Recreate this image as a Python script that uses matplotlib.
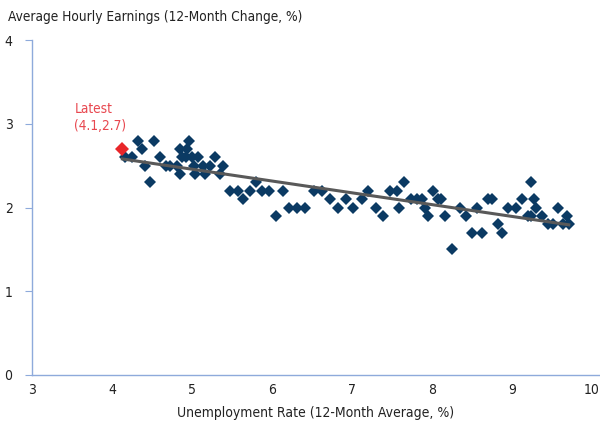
import matplotlib.pyplot as plt
import numpy as np

# unemployment rate (12-month avg, %) vs average hourly earnings (12-month change, %)
unemp = [
    4.16, 4.25, 4.33, 4.37, 4.41, 4.47, 4.53, 4.60, 4.68, 4.72,
    4.81, 4.85, 4.87, 4.85, 4.92, 4.94, 4.96, 5.00, 5.02, 5.04,
    5.08, 5.14, 5.16, 5.22, 5.29, 5.35, 5.39, 5.47, 5.58, 5.64,
    5.72, 5.80, 5.87, 5.96, 6.05, 6.14, 6.21, 6.31, 6.41, 6.52,
    6.62, 6.72, 6.83, 6.93, 7.01, 7.13, 7.20, 7.30, 7.39, 7.48,
    7.56, 7.59, 7.65, 7.74, 7.81, 7.87, 7.91, 7.95, 8.01, 8.07,
    8.11, 8.16, 8.25, 8.35, 8.43, 8.50, 8.56, 8.63, 8.70, 8.75,
    8.82, 8.88, 8.95, 9.05, 9.12, 9.20, 9.24, 9.24, 9.28, 9.30,
    9.38, 9.45, 9.51, 9.57, 9.64, 9.69, 9.71,
]
earnings = [
    2.6, 2.6, 2.8, 2.7, 2.5, 2.3, 2.8, 2.6, 2.5, 2.5,
    2.5, 2.7, 2.6, 2.4, 2.6, 2.7, 2.8, 2.6, 2.5, 2.4,
    2.6, 2.5, 2.4, 2.5, 2.6, 2.4, 2.5, 2.2, 2.2, 2.1,
    2.2, 2.3, 2.2, 2.2, 1.9, 2.2, 2.0, 2.0, 2.0, 2.2,
    2.2, 2.1, 2.0, 2.1, 2.0, 2.1, 2.2, 2.0, 1.9, 2.2,
    2.2, 2.0, 2.3, 2.1, 2.1, 2.1, 2.0, 1.9, 2.2, 2.1,
    2.1, 1.9, 1.5, 2.0, 1.9, 1.7, 2.0, 1.7, 2.1, 2.1,
    1.8, 1.7, 2.0, 2.0, 2.1, 1.9, 1.9, 2.3, 2.1, 2.0,
    1.9, 1.8, 1.8, 2.0, 1.8, 1.9, 1.8,
]
latest_x, latest_y = 4.13, 2.7
latest_label = 'Latest\n(4.1,2.7)'

x_ticks = [3, 4, 5, 6, 7, 8, 9, 10]
y_ticks = [0, 1, 2, 3, 4]

plt.rcParams['font.family'] = ['DejaVu Sans']
plt.rcParams['font.stretch'] = 'condensed'

navy = '#0b3a63'
red = '#e8262a'
axis_blue = '#8eaadb'

fig = plt.figure(figsize=(6, 4.23), dpi=100)
ax = fig.add_axes([0.0533, 0.1135, 0.9467, 0.7919])

all_x = np.array(unemp + [latest_x])
all_y = np.array(earnings + [latest_y])
slope, intercept = np.polyfit(all_x, all_y, 1)
xs = np.array([all_x.min(), all_x.max()])
ax.plot(xs, slope * xs + intercept, color='#595959', lw=2.2, zorder=3)

ax.plot(unemp, earnings, linestyle='none', marker='D', ms=6.6,
        color=navy, mew=0, zorder=2)
ax.plot([latest_x], [latest_y], linestyle='none', marker='D', ms=7.2,
        color=red, mew=0, zorder=4)
ax.text(3.53, 3.26, latest_label, color='#e8474f',
        fontsize=9.8, ha='left', va='top', linespacing=1.3)

ax.set_xlim(3, 10.1)
ax.set_ylim(0, 4)
ax.set_xticks(x_ticks)
ax.set_yticks(y_ticks)
ax.tick_params(axis='x', length=0, pad=6, labelsize=10, labelcolor='#222222')
ax.tick_params(axis='y', direction='out', length=5, color=axis_blue,
               pad=9, labelsize=10, labelcolor='#222222')
for side in ['top', 'right']:
    ax.spines[side].set_visible(False)
for side in ['left', 'bottom']:
    ax.spines[side].set_color(axis_blue)
    ax.spines[side].set_linewidth(1.0)

ax.set_xlabel('Unemployment Rate (12-Month Average, %)', fontsize=10,
              color='#222222', labelpad=6)
fig.text(0.013, 0.96, 'Average Hourly Earnings (12-Month Change, %)',
         fontsize=9.8, color='#222222', ha='left', va='center')

fig.savefig('out.png', dpi=100)
